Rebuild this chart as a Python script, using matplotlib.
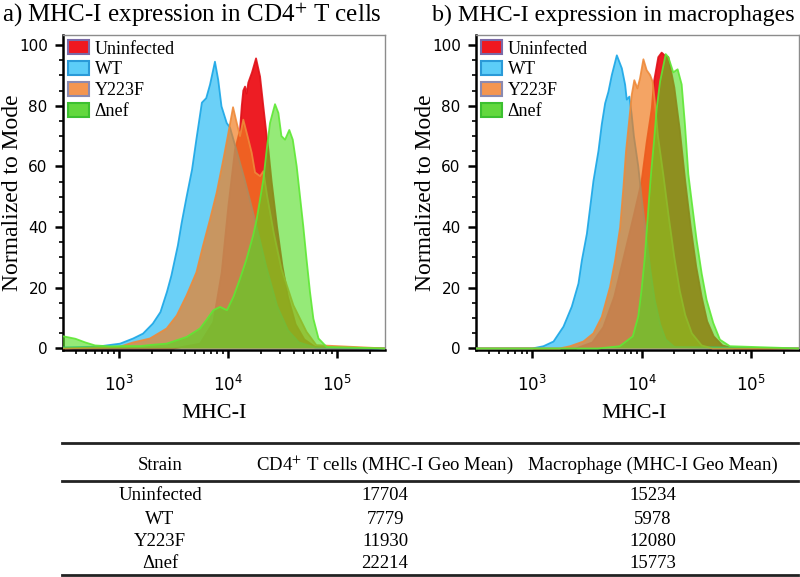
import numpy as np
import matplotlib
matplotlib.use("Agg")
import matplotlib.pyplot as plt
from matplotlib.patches import Patch
from matplotlib.lines import Line2D
from matplotlib.ticker import MultipleLocator, LogLocator, NullFormatter

plt.rcParams["font.family"] = ["Liberation Serif", "DejaVu Serif"]

# ==========================================================
# DATA (log10 MHC-I intensity, % of mode)
# ==========================================================

strains = ["Uninfected", "WT", "Y223F", "\u0394nef"]

# a) CD4+ T cells
cd4_uninf_log = [2.45, 3.5, 3.743, 3.865, 3.942, 4.003, 4.064, 4.11, 4.126, 4.14, 4.156, 4.17, 4.186,
                 4.22, 4.257, 4.294, 4.324, 4.355, 4.37, 4.4, 4.45, 4.5, 4.55, 4.62, 4.7, 4.8, 5.45]
cd4_uninf_y = [0, 0, 1.6, 8.7, 25.1, 46.9, 65.5, 72, 80, 85, 86.3, 84, 87.6,
               91, 95.6, 89.6, 79.8, 69.9, 65.6, 55, 40, 27, 17, 8, 3, 0.5, 0]

cd4_wt_log = [2.45, 2.8, 3.01, 3.13, 3.22, 3.31, 3.38, 3.44, 3.48, 3.54, 3.575, 3.62, 3.67, 3.71, 3.76,
              3.80, 3.835, 3.88, 3.91, 3.94, 3.988, 4.018, 4.08, 4.15, 4.2, 4.263, 4.35, 4.45, 4.55,
              4.65, 4.8, 5.45]
cd4_wt_y = [0.3, 0.6, 1.6, 3.3, 4.9, 8.2, 12, 18.7, 24, 34, 41.5, 50, 59, 69, 81,
            82.5, 87, 94.5, 88.5, 79.8, 74.3, 72.8, 65, 56, 49, 40, 27, 14, 6,
            2, 0.3, 0]

cd4_y223f_log = [2.45, 3.0, 3.13, 3.284, 3.437, 3.53, 3.62, 3.71, 3.77, 3.835, 3.896, 3.957, 4.003,
                 4.046, 4.08, 4.11, 4.14, 4.186, 4.217, 4.248, 4.294, 4.324, 4.36, 4.42, 4.49, 4.6,
                 4.72, 4.81, 5.45]
cd4_y223f_y = [0, 0.5, 2, 3.3, 6.6, 10.9, 17.5, 25.1, 33.8, 42.6, 51.4, 62.3, 71,
               79.5, 74.3, 70, 75.4, 69, 64.5, 58, 56.8, 58.4, 50, 38, 26.2, 14.2,
               5.5, 1.1, 0]

cd4_dnef_log = [2.45, 2.6, 2.69, 2.78, 2.92, 3.05, 3.2, 3.3, 3.437, 3.62, 3.743, 3.8, 3.865, 3.927,
                3.99, 4.049, 4.11, 4.17, 4.23, 4.263, 4.294, 4.324, 4.355, 4.385, 4.431, 4.462,
                4.49, 4.523, 4.562, 4.594, 4.63, 4.66, 4.69, 4.72, 4.752, 4.783, 4.83, 4.905, 5.45]
cd4_dnef_y = [4.3, 3.2, 2.0, 1.0, 0.7, 0.8, 0.8, 1.2, 1.6, 3.8, 6.6, 9.3, 12.6, 13.7,
              12.6, 17, 23, 29.5, 37.2, 42.6, 49.2, 55.7, 65.6, 74.3, 80.5, 77.6,
              70, 68.8, 72, 68.8, 60, 50.2, 40.4, 29.5, 18.6, 9.8, 3.3, 0.5, 0]

# b) macrophages
mac_uninf_log = [2.45, 3.4, 3.55, 3.65, 3.75, 3.85, 3.93, 4.0, 4.047, 4.093, 4.114, 4.153, 4.184,
                 4.215, 4.245, 4.3, 4.35, 4.4, 4.45, 4.5, 4.55, 4.6, 4.66, 4.74, 4.85, 5.45]
mac_uninf_y = [0, 0, 2, 7, 17, 32, 44, 55, 68, 79, 88, 96, 97.5,
               96.5, 96, 86, 72, 55, 40, 27, 17, 9, 4, 1, 0, 0]

mac_wt_log = [2.45, 3.0, 3.103, 3.195, 3.286, 3.362, 3.423, 3.454, 3.5, 3.53, 3.56, 3.606, 3.636,
              3.667, 3.697, 3.728, 3.774, 3.82, 3.85, 3.865, 3.889, 3.91, 3.93, 3.97, 4.0, 4.04,
              4.08, 4.12, 4.17, 4.22, 4.3, 5.45]
mac_wt_y = [0, 0, 0.75, 2.3, 7.2, 13.8, 21.4, 29, 37.8, 46.5, 55.2, 65.1, 73.8,
            80.8, 84.6, 90.1, 96.6, 92.3, 86.9, 82, 83, 77, 70, 60, 50, 38,
            26, 16, 8, 3, 0.5, 0]

mac_y223f_log = [2.45, 3.25, 3.347, 3.468, 3.56, 3.636, 3.712, 3.758, 3.804, 3.834, 3.858, 3.889,
                 3.91, 3.934, 3.962, 3.986, 4.017, 4.047, 4.078, 4.102, 4.123, 4.15, 4.2, 4.25,
                 4.3, 4.35, 4.4, 4.46, 4.55, 4.65, 5.45]
mac_y223f_y = [0, 0, 0.75, 2.3, 5, 10.4, 20.3, 29, 39.9, 53, 65, 75.9,
               83.5, 88.4, 85.7, 89, 95.3, 91.7, 90.1, 87.9, 80.8, 70, 57, 43,
               30, 19, 11, 5, 1, 0, 0]

mac_dnef_log = [2.45, 3.6, 3.8, 3.92, 3.97, 4.0, 4.03, 4.05, 4.07, 4.09, 4.114, 4.139, 4.169, 4.221,
                4.245, 4.29, 4.33, 4.367, 4.397, 4.428, 4.458, 4.504, 4.55, 4.595, 4.656, 4.717,
                4.808, 5.45]
mac_dnef_y = [0, 0, 0.75, 4, 10.6, 19.3, 30.2, 40, 50, 59, 68.3, 79.2, 87.9, 97,
              96, 91, 92, 87, 73.8, 57.4, 48.7, 35.6, 24.7, 16, 8.4, 2.9,
              0.75, 0]

# geometric means for the table
cd4_geo_mean = [17704, 7779, 11930, 22214]
mac_geo_mean = [15234, 5978, 12080, 15773]

# ==========================================================
# STYLE
# ==========================================================

fill_colors = ["#ec1018", "#2cbcf4", "#f07e22", "#4fdc1e"]
line_colors = ["#e01018", "#1aa6e6", "#ee8a3a", "#5ee834"]
fill_alpha = [0.95, 0.7, 0.7, 0.6]
legend_faces = ["#f01820", "#5ccdf8", "#f49650", "#62d83e"]
legend_edges = ["#7a6aa8", "#2a9ad8", "#8a8ab0", "#3cc030"]

XMIN, XMAX = 10 ** 2.486, 10 ** 5.44

fig = plt.figure(figsize=(8, 5.77), dpi=100)

ax1 = fig.add_axes([63 / 800, 227 / 577, 322 / 800, 315 / 577])
ax2 = fig.add_axes([476 / 800, 227 / 577, 323 / 800, 315 / 577])

panels = [
    (ax1, [(cd4_uninf_log, cd4_uninf_y), (cd4_wt_log, cd4_wt_y),
           (cd4_y223f_log, cd4_y223f_y), (cd4_dnef_log, cd4_dnef_y)]),
    (ax2, [(mac_uninf_log, mac_uninf_y), (mac_wt_log, mac_wt_y),
           (mac_y223f_log, mac_y223f_y), (mac_dnef_log, mac_dnef_y)]),
]

for ax, series in panels:
    for i, (lx, y) in enumerate(series):
        x = 10 ** np.array(lx)
        ax.fill_between(x, y, 0, facecolor=fill_colors[i], alpha=fill_alpha[i],
                        linewidth=0, zorder=2 + i)
        ax.plot(x, y, color=line_colors[i], lw=1.3, alpha=0.9, zorder=2 + i)

    ax.set_xscale("log")
    ax.set_xlim(XMIN, XMAX)
    ax.set_ylim(-0.5, 103.3)
    ax.xaxis.set_major_locator(LogLocator(base=10, numticks=10))
    ax.xaxis.set_minor_locator(LogLocator(base=10, subs=np.arange(2, 10), numticks=10))
    ax.xaxis.set_minor_formatter(NullFormatter())
    ax.yaxis.set_major_locator(MultipleLocator(20))
    ax.yaxis.set_minor_locator(MultipleLocator(5))

    ax.tick_params(axis="both", which="major", direction="out", length=6, width=1.8,
                   labelfontfamily="DejaVu Sans", colors="black")
    ax.tick_params(axis="both", which="minor", direction="out", length=3, width=1.2)
    ax.tick_params(axis="x", which="major", labelsize=12, pad=12)
    ax.tick_params(axis="y", which="major", labelsize=11, pad=5)

    for side in ["left", "bottom"]:
        ax.spines[side].set_linewidth(1.8)
        ax.spines[side].set_color("black")
    for side in ["top", "right"]:
        ax.spines[side].set_linewidth(1.0)
        ax.spines[side].set_color("#8c8c8c")

    ax.set_ylabel("Normalized to Mode", fontsize=17)
    ax.yaxis.set_label_coords(-0.125, 0.5)
    ax.set_xlabel("MHC-I", fontsize=16)

    handles = [Patch(facecolor=legend_faces[i], edgecolor=legend_edges[i], linewidth=1.5)
               for i in range(4)]
    ax.legend(handles, strains, loc="upper left", frameon=False, fontsize=13,
              handlelength=1.15, handleheight=0.8, handletextpad=0.3, labelspacing=0.2,
              borderaxespad=0.1, borderpad=0.2)

ax1.xaxis.set_label_coords(0.47, -0.17)
ax2.xaxis.set_label_coords(0.49, -0.17)

fig.text(2 / 800, 1 - 15 / 577, r"a) MHC-I expression in CD4$^{+}$ T cells", fontsize=18,
         ha="left", va="center", math_fontfamily="stix")
fig.text(432 / 800, 1 - 15 / 577, "b) MHC-I expression in macrophages", fontsize=17.3,
         ha="left", va="center")

# ==========================================================
# TABLE
# ==========================================================

for ypx in [443, 481, 575]:
    fig.add_artist(Line2D([62 / 800, 798 / 800], [1 - ypx / 577] * 2, color="#222222", lw=2))

col_x = [160 / 800, 385 / 800, 653 / 800]
headers = ["Strain", r"CD4$^{+}$ T cells (MHC-I Geo Mean)", "Macrophage (MHC-I Geo Mean)"]
for cx, h in zip(col_x, headers):
    fig.text(cx, 1 - 465 / 577, h, fontsize=13.5, ha="center", va="center",
             math_fontfamily="stix")

row_y = [496, 519, 542, 564]
for ry, s, c, m in zip(row_y, strains, cd4_geo_mean, mac_geo_mean):
    fig.text(col_x[0], 1 - ry / 577, s, fontsize=13.5, ha="center", va="center")
    fig.text(col_x[1], 1 - ry / 577, str(c), fontsize=13.5, ha="center", va="center")
    fig.text(col_x[2], 1 - ry / 577, str(m), fontsize=13.5, ha="center", va="center")

fig.savefig("out.png", dpi=100)
